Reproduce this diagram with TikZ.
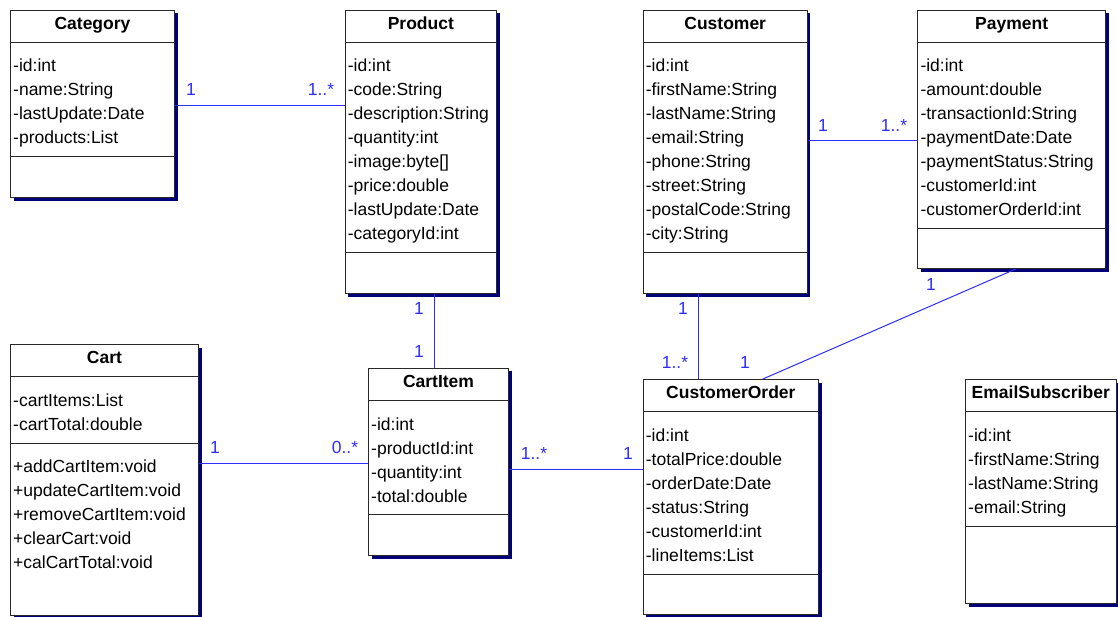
\documentclass[tikz,border=0pt]{standalone}
\usepackage{fontspec}
\setmainfont{Liberation Sans}
\usepackage{tikz}
\usetikzlibrary{shadows,positioning,calc}
\definecolor{assocblue}{RGB}{45,45,250}
\definecolor{shadownavy}{RGB}{0,0,120}
\definecolor{boxgray}{RGB}{40,40,40}
\tikzstyle{classbox} = [draw=boxgray, fill=white, line width=1pt, inner sep=0pt, anchor=north west, general shadow={fill=shadownavy, shadow xshift=3pt, shadow yshift=-3pt}]
\tikzstyle{classname} = [font=\fontsize{17.5}{24}\selectfont\bfseries, anchor=base, inner sep=0pt]
\tikzstyle{members} = [font=\fontsize{17.5}{24}\selectfont, align=left, anchor=north west, inner sep=0pt]
\tikzstyle{sepline} = [draw=boxgray, line width=1pt]
\tikzstyle{assoc} = [draw=assocblue, line width=1pt]
\tikzstyle{mult} = [text=assocblue, font=\fontsize{17.5}{24}\selectfont, inner sep=0pt]

\begin{document}
\begin{tikzpicture}[x=1pt,y=-1pt]
		\useasboundingbox (0,0) rectangle (1118,616);
		
		% Category
		\node[classbox, minimum width=164pt, minimum height=187.5pt] (category) at (10,9.5) {};
		\node[classname] (category-name) at ([yshift=-19.5pt]category.north) {Category};
		\draw[sepline] ([yshift=-32.5pt]category.north west) -- ([yshift=-32.5pt]category.north east);
		\node[members] (category-attr) at ([xshift=3pt,yshift=-49.5pt]category.north west) {-id:int\\-name:String\\-lastUpdate:Date\\-products:List};
		\draw[sepline] ([yshift=-146.5pt]category.north west) -- ([yshift=-146.5pt]category.north east);
		
		% Product
		\node[classbox, minimum width=151.3pt, minimum height=283.5pt] (product) at (344.7,9.5) {};
		\node[classname] (product-name) at ([yshift=-19.5pt]product.north) {Product};
		\draw[sepline] ([yshift=-32.5pt]product.north west) -- ([yshift=-32.5pt]product.north east);
		\node[members] (product-attr) at ([xshift=3pt,yshift=-49.5pt]product.north west) {-id:int\\-code:String\\-description:String\\-quantity:int\\-image:byte[]\\-price:double\\-lastUpdate:Date\\-categoryId:int};
		\draw[sepline] ([yshift=-242.5pt]product.north west) -- ([yshift=-242.5pt]product.north east);
		
		% Customer
		\node[classbox, minimum width=164pt, minimum height=283.5pt] (customer) at (642.7,9.5) {};
		\node[classname] (customer-name) at ([yshift=-19.5pt]customer.north) {Customer};
		\draw[sepline] ([yshift=-32.5pt]customer.north west) -- ([yshift=-32.5pt]customer.north east);
		\node[members] (customer-attr) at ([xshift=3pt,yshift=-49.5pt]customer.north west) {-id:int\\-firstName:String\\-lastName:String\\-email:String\\-phone:String\\-street:String\\-postalCode:String\\-city:String};
		\draw[sepline] ([yshift=-242.5pt]customer.north west) -- ([yshift=-242.5pt]customer.north east);
		
		% Payment
		\node[classbox, minimum width=187.7pt, minimum height=258.5pt] (payment) at (917.3,9.5) {};
		\node[classname] (payment-name) at ([yshift=-19.5pt]payment.north) {Payment};
		\draw[sepline] ([yshift=-32.5pt]payment.north west) -- ([yshift=-32.5pt]payment.north east);
		\node[members] (payment-attr) at ([xshift=3pt,yshift=-49.5pt]payment.north west) {-id:int\\-amount:double\\-transactionId:String\\-paymentDate:Date\\-paymentStatus:String\\-customerId:int\\-customerOrderId:int};
		\draw[sepline] ([yshift=-218.5pt]payment.north west) -- ([yshift=-218.5pt]payment.north east);
		
		% Cart
		\node[classbox, minimum width=188pt, minimum height=271pt] (cart) at (10,344) {};
		\node[classname] (cart-name) at ([yshift=-19.5pt]cart.north) {Cart};
		\draw[sepline] ([yshift=-32.5pt]cart.north west) -- ([yshift=-32.5pt]cart.north east);
		\node[members] (cart-attr) at ([xshift=3pt,yshift=-49.5pt]cart.north west) {-cartItems:List\\-cartTotal:double};
		\draw[sepline] ([yshift=-99pt]cart.north west) -- ([yshift=-99pt]cart.north east);
		\node[members] (cart-ops) at ([xshift=3pt,yshift=-116pt]cart.north west) {+addCartItem:void\\+updateCartItem:void\\+removeCartItem:void\\+clearCart:void\\+calCartTotal:void};
		
		% CartItem
		\node[classbox, minimum width=140pt, minimum height=187.3pt] (cartitem) at (368,367.7) {};
		\node[classname] (cartitem-name) at ([yshift=-19.5pt]cartitem.north) {CartItem};
		\draw[sepline] ([yshift=-32.5pt]cartitem.north west) -- ([yshift=-32.5pt]cartitem.north east);
		\node[members] (cartitem-attr) at ([xshift=3pt,yshift=-49.5pt]cartitem.north west) {-id:int\\-productId:int\\-quantity:int\\-total:double};
		\draw[sepline] ([yshift=-146.3pt]cartitem.north west) -- ([yshift=-146.3pt]cartitem.north east);
		
		% CustomerOrder
		\node[classbox, minimum width=175.3pt, minimum height=235pt] (customerorder) at (642.7,379) {};
		\node[classname] (customerorder-name) at ([yshift=-19.5pt]customerorder.north) {CustomerOrder};
		\draw[sepline] ([yshift=-32.5pt]customerorder.north west) -- ([yshift=-32.5pt]customerorder.north east);
		\node[members] (customerorder-attr) at ([xshift=3pt,yshift=-49.5pt]customerorder.north west) {-id:int\\-totalPrice:double\\-orderDate:Date\\-status:String\\-customerId:int\\-lineItems:List};
		\draw[sepline] ([yshift=-195pt]customerorder.north west) -- ([yshift=-195pt]customerorder.north east);
		
		% EmailSubscriber
		\node[classbox, minimum width=150.5pt, minimum height=224pt] (emailsub) at (965,379) {};
		\node[classname] (emailsub-name) at ([yshift=-19.5pt]emailsub.north) {EmailSubscriber};
		\draw[sepline] ([yshift=-32.5pt]emailsub.north west) -- ([yshift=-32.5pt]emailsub.north east);
		\node[members] (emailsub-attr) at ([xshift=3pt,yshift=-49.5pt]emailsub.north west) {-id:int\\-firstName:String\\-lastName:String\\-email:String};
		\draw[sepline] ([yshift=-147.7pt]emailsub.north west) -- ([yshift=-147.7pt]emailsub.north east);
		
		% associations
		\draw[assoc] ([yshift=-2pt]category.east) -- ([yshift=-2pt]category.east -| product.west);
		\draw[assoc] ([yshift=-1.7pt]payment.west) -- ([yshift=-1.7pt]payment.west -| customer.east);
		\draw[assoc] ([xshift=-4pt]cartitem.north) -- ([xshift=-4pt]cartitem.north |- product.south);
		\draw[assoc] ([xshift=-27pt]customer.south) -- ([xshift=-27pt]customer.south |- customerorder.north);
		\draw[assoc] ([xshift=4pt]payment.south) -- ([xshift=32pt]customerorder.north);
		\draw[assoc] ([yshift=-2pt]cartitem.west) -- ([yshift=-2pt]cartitem.west -| cart.east);
		\draw[assoc] ([yshift=-8pt]cartitem.east) -- ([yshift=-8pt]cartitem.east -| customerorder.west);
		
		% multiplicities
		\node[mult] (m-cat) at (191,89) {1};
		\node[mult] (m-cat-prod) at (321,89) {1..*};
		\node[mult] (m-cust) at (823,125) {1};
		\node[mult] (m-cust-pay) at (894,125) {1..*};
		\node[mult] (m-prod) at (419,308) {1};
		\node[mult] (m-prod-item) at (419,351) {1};
		\node[mult] (m-cust-ord) at (683,308) {1};
		\node[mult] (m-ord-cust) at (675,362) {1..*};
		\node[mult] (m-pay-ord) at (931,284) {1};
		\node[mult] (m-ord-pay) at (745,362) {1};
		\node[mult] (m-cart) at (215,447) {1};
		\node[mult] (m-cart-item) at (345,447) {0..*};
		\node[mult] (m-item-ord) at (534,453) {1..*};
		\node[mult] (m-ord-item) at (628,453) {1};
\end{tikzpicture}
\end{document}
